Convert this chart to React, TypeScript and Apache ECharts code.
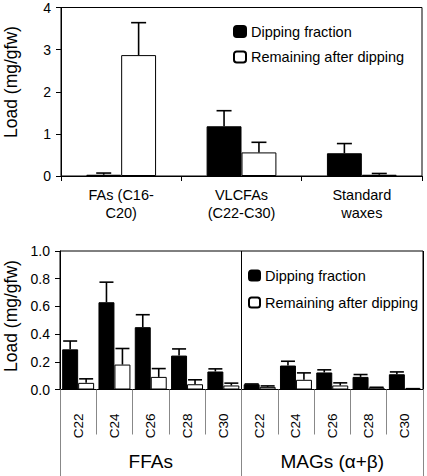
import React, { useEffect, useRef } from "react";
import * as echarts from "echarts";

const seriesNames = ["Dipping fraction", "Remaining after dipping"];
const yTitle = "Load (mg/gfw)";

const topCategories = ["FAs (C16-\nC20)", "VLCFAs\n(C22-C30)", "Standard\nwaxes"];
const topDipping = [0.03, 1.18, 0.54];
const topDippingErr = [0.07, 1.55, 0.77];
const topRemaining = [2.87, 0.56, 0.03];
const topRemainingErr = [3.64, 0.8, 0.06];
const topTicks = [0, 1, 2, 3, 4];

const bottomCategories = ["C22", "C24", "C26", "C28", "C30", "C22", "C24", "C26", "C28", "C30"];
const bottomGroups = ["FFAs", "MAGs (α+β)"];
const bottomDipping = [0.29, 0.63, 0.45, 0.245, 0.13, 0.038, 0.173, 0.123, 0.091, 0.11];
const bottomDippingErr = [0.35, 0.775, 0.54, 0.293, 0.149, 0.04, 0.204, 0.142, 0.108, 0.127];
const bottomRemaining = [0.048, 0.18, 0.091, 0.038, 0.029, 0.019, 0.07, 0.029, 0.014, 0.005];
const bottomRemainingErr = [0.077, 0.296, 0.151, 0.07, 0.046, 0.026, 0.12, 0.048, 0.016, 0.006];
const bottomTicks = [0, 0.2, 0.4, 0.6, 0.8, 1.0];

const FONT = "'Liberation Sans', Arial, sans-serif";

function errRender(gapFrac: number, cap: number) {
  return (params: any, api: any) => {
    const ci = api.value(0);
    const v = api.value(1);
    const e = api.value(2);
    const side = api.value(3);
    const band = api.size([1, 0])[0];
    const barW = (band * (1 - gapFrac)) / 2;
    const base = api.coord([ci, v]);
    const top = api.coord([ci, e]);
    const x = base[0] + (side * barW) / 2;
    const st = { stroke: "#000", lineWidth: 1.6 };
    return {
      type: "group",
      children: [
        { type: "line", shape: { x1: x, y1: base[1], x2: x, y2: top[1] }, style: st },
        { type: "line", shape: { x1: x - cap / 2, y1: top[1], x2: x + cap / 2, y2: top[1] }, style: st },
      ],
    };
  };
}

function errData(vals: number[], errs: number[], side: number) {
  return vals.map((v, i) => [i, v, errs[i], side]);
}

export default function App() {
  const ref = useRef<HTMLDivElement>(null);
  useEffect(() => {
    if (!ref.current) return;
    const chart = echarts.init(ref.current, null, { renderer: "svg" });
    const topGap = 0.42;
    const botGap = 0.12;
    const axisLabelBase = { color: "#000", fontFamily: FONT };
    const titleStyle = { text: yTitle, fontSize: 17.5, fontFamily: FONT, fill: "#000", align: "center", verticalAlign: "middle" };
    chart.setOption({
      animation: false,
      textStyle: { fontFamily: FONT, color: "#000" },
      graphic: [
        { type: "text", x: 11, y: 82, rotation: Math.PI / 2, style: titleStyle },
        { type: "text", x: 11, y: 316, rotation: Math.PI / 2, style: titleStyle },
      ],
      grid: [
        { left: 61, top: 7.5, width: 361, height: 168.5, show: true, borderColor: "#000", borderWidth: 1 },
        { left: 60, top: 251, width: 363, height: 138.5, show: true, borderColor: "#000", borderWidth: 1 },
      ],
      legend: [
        {
          data: seriesNames,
          orient: "vertical",
          left: 228,
          top: 19,
          itemWidth: 12,
          itemHeight: 11,
          itemGap: 10.5,
          textStyle: { fontSize: 14.5, color: "#000", fontFamily: FONT },
        },
        {
          data: seriesNames,
          orient: "vertical",
          left: 243,
          top: 263,
          itemWidth: 11,
          itemHeight: 10,
          itemGap: 12,
          textStyle: { fontSize: 14.5, color: "#000", fontFamily: FONT },
        },
      ],
      xAxis: [
        {
          type: "category",
          gridIndex: 0,
          data: topCategories,
          axisLine: { lineStyle: { color: "#000", width: 1 } },
          axisTick: { show: true, length: 5, interval: 0, lineStyle: { color: "#000" } },
          axisLabel: { ...axisLabelBase, fontSize: 14.5, margin: 10, lineHeight: 18, interval: 0 },
        },
        {
          type: "category",
          gridIndex: 1,
          data: bottomCategories,
          position: "bottom",
          axisLine: { lineStyle: { color: "#000", width: 1 } },
          axisTick: { show: true, length: 45, interval: 0, lineStyle: { color: "#888" } },
          axisLabel: { ...axisLabelBase, fontSize: 13.5, rotate: 90, margin: 24, interval: 0 },
        },
        {
          type: "category",
          gridIndex: 1,
          data: bottomGroups,
          position: "bottom",
          axisLine: { show: false },
          axisTick: { show: true, length: 87, interval: 0, lineStyle: { color: "#888" } },
          axisLabel: { ...axisLabelBase, fontSize: 19, margin: 62, interval: 0 },
          splitLine: { show: true, interval: 0, lineStyle: { color: "#000", width: 1 } },
        },
      ],
      yAxis: [
        {
          type: "value",
          gridIndex: 0,
          min: topTicks[0],
          max: topTicks[topTicks.length - 1],
          interval: 1,
          axisLine: { show: true, lineStyle: { color: "#000" } },
          axisTick: { show: true, length: 5, lineStyle: { color: "#000" } },
          axisLabel: { ...axisLabelBase, fontSize: 14, margin: 10 },
          splitLine: { show: false },
        },
        {
          type: "value",
          gridIndex: 1,
          min: bottomTicks[0],
          max: bottomTicks[bottomTicks.length - 1],
          interval: 0.2,
          axisLine: { show: true, lineStyle: { color: "#000" } },
          axisTick: { show: true, length: 5, lineStyle: { color: "#000" } },
          axisLabel: { ...axisLabelBase, fontSize: 14, margin: 10, formatter: (v: number) => v.toFixed(1) },
          splitLine: { show: false },
        },
      ],
      series: [
        {
          name: seriesNames[0],
          type: "bar",
          xAxisIndex: 0,
          yAxisIndex: 0,
          data: topDipping,
          barGap: "0%",
          barCategoryGap: topGap * 100 + "%",
          itemStyle: { color: "#000", borderColor: "#000", borderWidth: 1 },
        },
        {
          name: seriesNames[1],
          type: "bar",
          xAxisIndex: 0,
          yAxisIndex: 0,
          data: topRemaining,
          barGap: "0%",
          barCategoryGap: topGap * 100 + "%",
          itemStyle: { color: "#fff", borderColor: "#000", borderWidth: 1 },
        },
        {
          name: seriesNames[0],
          type: "bar",
          xAxisIndex: 1,
          yAxisIndex: 1,
          data: bottomDipping,
          barGap: "0%",
          barCategoryGap: botGap * 100 + "%",
          itemStyle: { color: "#000", borderColor: "#000", borderWidth: 1 },
        },
        {
          name: seriesNames[1],
          type: "bar",
          xAxisIndex: 1,
          yAxisIndex: 1,
          data: bottomRemaining,
          barGap: "0%",
          barCategoryGap: botGap * 100 + "%",
          itemStyle: { color: "#fff", borderColor: "#000", borderWidth: 1 },
        },
        {
          type: "custom",
          xAxisIndex: 0,
          yAxisIndex: 0,
          z: 5,
          renderItem: errRender(topGap, 15),
          encode: { x: 0, y: 1 },
          data: [...errData(topDipping, topDippingErr, -1), ...errData(topRemaining, topRemainingErr, 1)],
        },
        {
          type: "custom",
          xAxisIndex: 1,
          yAxisIndex: 1,
          z: 5,
          renderItem: errRender(botGap, 14),
          encode: { x: 0, y: 1 },
          data: [...errData(bottomDipping, bottomDippingErr, -1), ...errData(bottomRemaining, bottomRemainingErr, 1)],
        },
      ],
    });
    return () => chart.dispose();
  }, []);
  return <div ref={ref} style={{ width: 427, height: 476, position: "absolute", left: 0, top: 0 }} />;
}
